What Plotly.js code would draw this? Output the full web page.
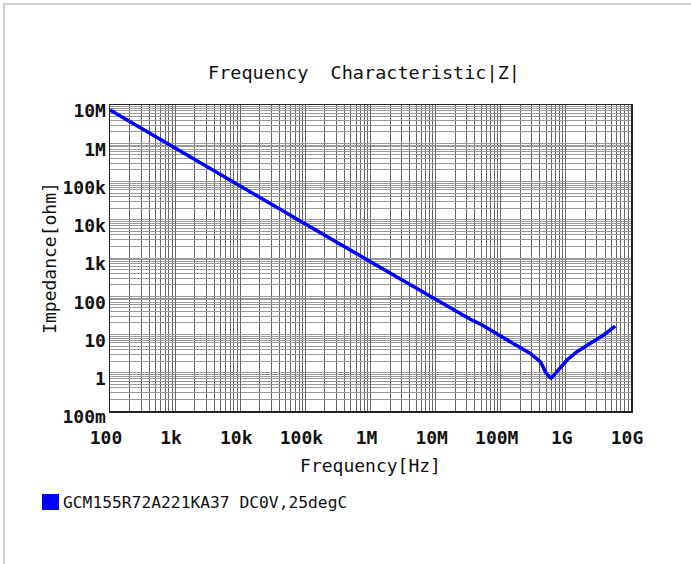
<!DOCTYPE html>
<html>
<head>
<meta charset="utf-8">
<script src="https://cdn.plot.ly/plotly-3.0.1.min.js"></script>
<style>
  html, body { margin: 0; padding: 0; background: #fff; }
  #wrap { position: relative; width: 691px; height: 564px; overflow: hidden; }
  #chart { position: absolute; left: 0; top: 0; width: 691px; height: 564px; }
  #frame { position: absolute; left: 3px; top: 3px; right: 0; bottom: 0;
           border-top: 2px solid #cdd1d5; border-left: 2px solid #cdd1d5; pointer-events: none; }
</style>
</head>
<body>
<div id="wrap"><div id="chart"></div><div id="frame"></div></div>
<script>
// ---- data ----
const freqHz = [100, 1e3, 1e4, 1e5, 1e6, 1.18e7, 3.4e7, 4.8e7, 6.9e7, 1.4e8, 2.84e8, 4.04e8, 4.5e8, 4.82e8, 5.4e8, 5.96e8, 6.5e8, 7.71e8, 1.04e9, 1.48e9, 2.37e9, 3.79e9, 5.73e9];
const impedanceOhm = [7.4e6, 7.38e5, 7.5e4, 7.7e3, 800, 68, 25, 19, 13, 6.5, 3.2, 1.95, 1.4, 1.06, 0.82, 0.72, 0.85, 1.18, 2.15, 3.55, 5.9, 9.7, 16.5];
const seriesName = "GCM155R72A221KA37 DC0V,25degC";
const chartTitle = "Frequency\u00a0\u00a0Characteristic|Z|";
const xTickVals = [1e2, 1e3, 1e4, 1e5, 1e6, 1e7, 1e8, 1e9, 1e10];
const xTickText = ["100", "1k", "10k", "100k", "1M", "10M", "100M", "1G", "10G"];
const yTickVals = [1e-1, 1, 1e1, 1e2, 1e3, 1e4, 1e5, 1e6, 1e7];
const yTickText = ["100m", "1", "10", "100", "1k", "10k", "100k", "1M", "10M"];

// minor grid positions (2..9 within each decade)
function minorVals(lo, hi) {
  const out = [];
  for (let e = lo; e < hi; e++) for (let d = 2; d <= 9; d++) out.push(d * Math.pow(10, e));
  return out;
}

const W = 691, H = 564;
const M = { l: 110, r: 60, t: 105, b: 153 };
const pw = W - M.l - M.r, ph = H - M.t - M.b;
const px = x => (x - M.l) / pw;
const py = y => (H - M.b - y) / ph;

const mono = "DejaVu Sans Mono, Liberation Mono, monospace";

const trace = {
  x: freqHz, y: impedanceOhm, type: "scatter", mode: "lines",
  name: seriesName, showlegend: false,
  line: { color: "#0000ff", width: 3.5 }
};

const layout = {
  width: W, height: H,
  margin: M,
  paper_bgcolor: "#ffffff", plot_bgcolor: "#ffffff",
  title: { text: chartTitle, font: { family: mono, size: 18.5, color: "#111" },
           x: px(364), xref: "paper", xanchor: "center", y: 1 - 73 / H, yanchor: "middle" },
  xaxis: {
    type: "log", range: [2, 10], tickmode: "array", tickvals: xTickVals, ticktext: xTickText,
    showline: true, mirror: true, linecolor: "#222", linewidth: 1.5,
    showgrid: true, gridcolor: "#666", gridwidth: 1, zeroline: false, ticks: "",
    minor: { tickmode: "array", tickvals: minorVals(2, 10), showgrid: true, gridcolor: "#666", gridwidth: 1, ticks: "" },
    tickfont: { family: mono, size: 18, color: "#111", weight: "bold" },
    ticklabelstandoff: 10, ticklabelshift: -4,
    title: { text: "Frequency[Hz]", font: { family: mono, size: 18, color: "#111" }, standoff: 12 },
    automargin: false, fixedrange: true
  },
  yaxis: {
    type: "log", range: [-1, 7], tickmode: "array", tickvals: yTickVals, ticktext: yTickText,
    showline: true, mirror: true, linecolor: "#222", linewidth: 1.5,
    showgrid: true, gridcolor: "#999", gridwidth: 1, zeroline: false, ticks: "",
    minor: { tickmode: "array", tickvals: minorVals(-1, 7), showgrid: true, gridcolor: "#999", gridwidth: 1, ticks: "" },
    tickfont: { family: mono, size: 18, color: "#111", weight: "bold" },
    ticklabelshift: 6, ticklabelstandoff: -1,
    title: { text: "Impedance[ohm]", font: { family: mono, size: 18, color: "#111" }, standoff: 1 },
    automargin: false, fixedrange: true
  },
  shapes: [
    { type: "rect", xref: "paper", yref: "paper", x0: px(42), x1: px(59), y0: py(510), y1: py(494),
      fillcolor: "#0000ff", line: { width: 0 } }
  ],
  annotations: [
    { text: seriesName, xref: "paper", yref: "paper", x: px(61), y: py(502), xanchor: "left", yanchor: "middle",
      showarrow: false, font: { family: mono, size: 16.3, color: "#111" } }
  ]
};

Plotly.newPlot("chart", [trace], layout, { displayModeBar: false, staticPlot: true });
</script>
</body>
</html>
